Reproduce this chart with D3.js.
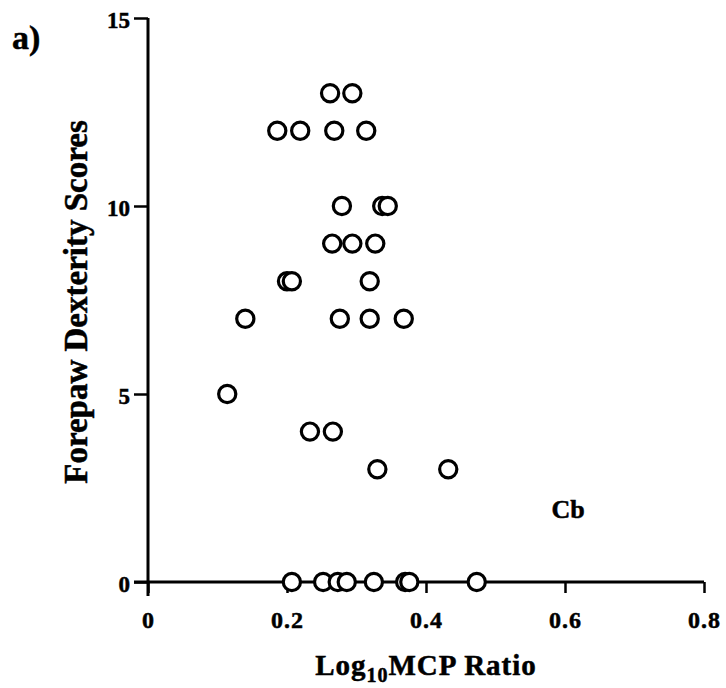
<!DOCTYPE html>
<html>
<head>
<meta charset="utf-8">
<script src="https://cdn.jsdelivr.net/npm/d3@7"></script>
<style>
  body { margin: 0; background: #fff; }
  text { font-family: "Liberation Serif", "Times New Roman", serif; fill: #000; stroke: #000; stroke-width: 0.5px; }
</style>
</head>
<body>
<div id="chart"></div>
<script>
// log10 MCP ratio vs forepaw dexterity score
var ratio = [0.262, 0.294,
    0.186, 0.219, 0.268, 0.314,
    0.279, 0.337, 0.345,
    0.265, 0.294, 0.327,
    0.200, 0.207, 0.319,
    0.140, 0.276, 0.319, 0.368,
    0.114,
    0.233, 0.266,
    0.330, 0.432,
    0.207, 0.252, 0.273, 0.286, 0.325, 0.370, 0.376, 0.473]
var score = [13, 13,
    12, 12, 12, 12,
    10, 10, 10,
    9, 9, 9,
    8, 8, 8,
    7, 7, 7, 7,
    5,
    4, 4,
    3, 3,
    0, 0, 0, 0, 0, 0, 0, 0]
var xTicks = [0, 0.2, 0.4, 0.6, 0.8]
var yTicks = [0, 5, 10, 15]

var width = 726, height = 688

var svg = d3.select('#chart')
    .append('svg')
    .attr('width', width)
    .attr('height', height)

var x = d3.scaleLinear().domain([0, 0.8]).range([148, 704])
var y = d3.scaleLinear().domain([0, 15]).range([582, 18])

// x axis
var xAxis = svg.append('g')
    .attr('transform', 'translate(0,' + y(0) + ')')
    .call(d3.axisBottom(x).tickValues(xTicks).tickSize(11).tickSizeOuter(0)
        .tickFormat(function(d) { return d === 0 ? '0' : d3.format('.1f')(d) }))
xAxis.select('.domain').attr('stroke-width', 3)
    .attr('d', 'M' + (x(0) - 14) + ',0H' + x(0.8))
xAxis.selectAll('.tick line').attr('stroke-width', 2.5)
xAxis.selectAll('.tick text')
    .attr('y', 46)
    .attr('dy', 0)
    .style('font-size', '24px')
    .style('letter-spacing', '1px')
    .style('font-weight', 'bold')

// y axis
var yAxis = svg.append('g')
    .attr('transform', 'translate(' + x(0) + ',0)')
    .call(d3.axisLeft(y).tickValues(yTicks).tickSize(14).tickPadding(4).tickSizeOuter(0))
yAxis.select('.domain').attr('stroke-width', 3)
    .attr('d', 'M0,' + y(15) + 'V' + (y(0) + 14))
yAxis.selectAll('.tick line').attr('stroke-width', 2.5)
yAxis.selectAll('.tick text')
    .attr('dy', '0.42em')
    .style('font-size', '23px')
    .style('font-weight', 'bold')

// points
svg.append('g')
    .selectAll('circle')
    .data(ratio)
    .enter()
    .append('circle')
    .attr('cx', function(d) { return x(d) })
    .attr('cy', function(d, i) { return y(score[i]) })
    .attr('r', 8.6)
    .attr('fill', '#fff')
    .attr('stroke', '#000')
    .attr('stroke-width', 3.2)

// labels
svg.append('text')
    .attr('x', 12)
    .attr('y', 49)
    .style('font-size', '34px')
    .style('font-weight', 'bold')
    .text('a)')

svg.append('text')
    .attr('transform', 'translate(87,302) rotate(-90)')
    .attr('text-anchor', 'middle')
    .style('font-size', '33px')
    .style('font-weight', 'bold')
    .text('Forepaw Dexterity Scores')

var xt = svg.append('text')
    .attr('x', x(0.4))
    .attr('y', 675)
    .attr('text-anchor', 'middle')
    .style('font-size', '29px')
    .style('letter-spacing', '1px')
    .style('font-weight', 'bold')
xt.append('tspan').text('Log')
xt.append('tspan').attr('dy', 7).style('font-size', '20px').text('10')
xt.append('tspan').attr('dy', -7).text('MCP Ratio')

svg.append('text')
    .attr('x', 568)
    .attr('y', 518)
    .attr('text-anchor', 'middle')
    .style('font-size', '26px')
    .style('font-weight', 'bold')
    .text('Cb')
</script>
</body>
</html>
